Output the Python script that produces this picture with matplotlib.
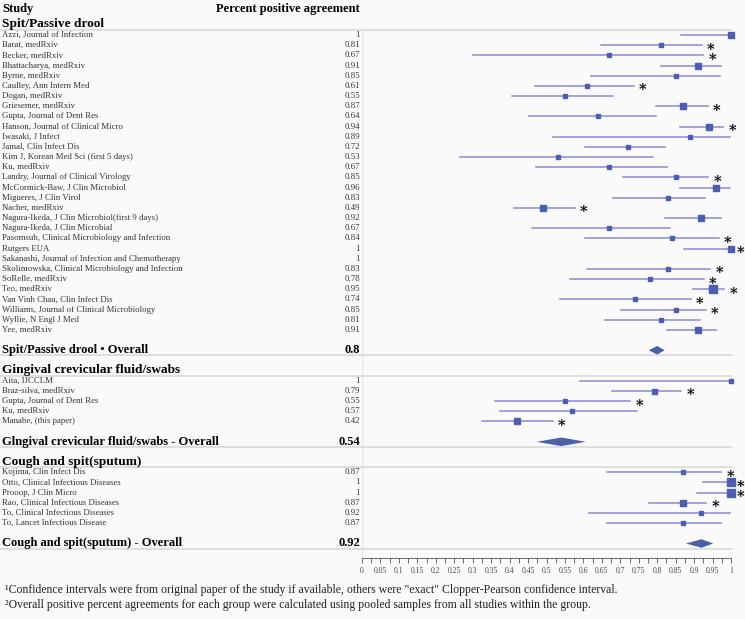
import numpy as np
import matplotlib
matplotlib.use("Agg")
from matplotlib import pyplot as plt
from matplotlib import transforms

# ---- data ----
spit_names = [
    "Azzi, Journal of Infection", "Barat, medRxiv", "Becker, medRxiv",
    "Bhattacharya, medRxiv", "Byrne, medRxiv", "Caulley, Ann Intern Med",
    "Dogan, medRxiv", "Griesemer, medRxiv", "Gupta, Journal of Dent Res",
    "Hanson, Journal of Clinical Micro", "Iwasaki, J Infect", "Jamal, Clin Infect Dis",
    "Kim J, Korean Med Sci (first 5 days)", "Ku, medRxiv",
    "Landry, Journal of Clinical Virology", "McCormick-Baw, J Clin Microbiol",
    "Migueres, J Clin Virol", "Nacher, medRxiv",
    "Nagura-Ikeda, J Clin Microbiol(first 9 days)", "Nagura-Ikeda, J Clin Microbial",
    "Pasomsub, Clinical Microbiology and Infection", "Rutgers EUA",
    "Sakanashi, Journal of Infection and Chemotherapy",
    "Skolimowska, Clinical Microbiology and Infection", "SoRelle, medRxiv",
    "Teo, medRxiv", "Van Vinh Chau, Clin Infect Dis",
    "Williams, Journal of Clinical Microbiology", "Wyllie, N Engl J Med", "Yee, medRxiv",
]
spit_ppa = [1, 0.81, 0.67, 0.91, 0.85, 0.61, 0.55, 0.87, 0.64, 0.94, 0.89, 0.72,
            0.53, 0.67, 0.85, 0.96, 0.83, 0.49, 0.92, 0.67, 0.84, 1, 1, 0.83,
            0.78, 0.95, 0.74, 0.85, 0.81, 0.91]
spit_lo = [0.864, 0.649, 0.30, 0.811, 0.621, 0.469, 0.407, 0.797, 0.452, 0.861,
           0.518, 0.605, 0.266, 0.472, 0.707, 0.861, 0.68, 0.413, 0.82, 0.462,
           0.605, 0.873, np.nan, 0.609, 0.564, 0.898, 0.537, 0.701, 0.659, 0.827]
spit_hi = [1, 0.921, 0.925, 0.972, 0.969, 0.736, 0.681, 0.937, 0.797, 0.979,
           0.998, 0.822, 0.788, 0.827, 0.938, 0.996, 0.929, 0.576, 0.974, 0.836,
           0.967, 1, np.nan, 0.943, 0.926, 0.982, 0.891, 0.931, 0.915, 0.959]
spit_weight = [5.5, 4, 3, 5, 3, 4, 4, 5.5, 4, 6, 3, 4, 3, 3.5, 4, 5.5, 4, 5, 5,
               3.5, 3.5, 6, 0, 3.5, 3.5, 7, 3.5, 4, 3.5, 5]
spit_star = [0, 1, 1, 0, 0, 1, 0, 1, 0, 1, 0, 0, 0, 0, 1, 0, 0, 1, 0, 0, 1, 1, 0,
             1, 1, 1, 1, 1, 0, 0]

gum_names = ["Aita, IJCCLM", "Braz-silva, medRxiv", "Gupta, Journal of Dent Res",
             "Ku, medRxiv", "Manabe, (this paper)"]
gum_ppa = [1, 0.79, 0.55, 0.57, 0.42]
gum_lo = [0.591, 0.678, 0.361, 0.375, 0.324]
gum_hi = [1, 0.865, 0.727, 0.745, 0.517]
gum_weight = [3.5, 4.5, 3, 3, 5]
gum_star = [0, 1, 1, 0, 1]

sputum_names = ["Kojima, Clin Infect Dis", "Otto, Clinical Infectious Diseases",
                "Prooop, J Clin Micro", "Rao, Clinical Infectious Diseases",
                "To, Clinical Infectious Diseases", "To, Lancet Infectious Disease"]
sputum_ppa = [0.87, 1, 1, 0.87, 0.92, 0.87]
sputum_lo = [0.665, 0.923, 0.909, 0.779, 0.616, 0.665]
sputum_hi = [0.973, 1, 1, 0.933, 0.997, 0.973]
sputum_weight = [3.5, 7, 6.5, 5.5, 3, 3.5]
sputum_star = [1, 1, 1, 1, 0, 0]

group_titles = ["Spit/Passive drool", "Gingival crevicular fluid/swabs",
                "Cough and spit(sputum)"]
overall_titles = ["Spit/Passive drool \u2022 Overall",
                  "Glngival crevicular fluid/swabs - Overall",
                  "Cough and spit(sputum) - Overall"]
overall_ppa = [0.80, 0.54, 0.92]
overall_lo = [0.777, 0.473, 0.878]
overall_hi = [0.82, 0.607, 0.952]
overall_text = ["0.8", "0.54", "0.92"]

ticks = np.arange(0, 1.0001, 0.05)
tick_labels = ["0"] + [f"{t:.2f}".rstrip("0") for t in ticks[1:-1]] + ["1"]

footnotes = [
    "\u00b9Confidence intervals were from original paper of the study if available, "
    "others were \"exact\" Clopper-Pearson confidence interval.",
    "\u00b2Overall positive percent agreements for each group were calculated using "
    "pooled samples from all studies within the group.",
]

groups = [
    (spit_names, spit_ppa, spit_lo, spit_hi, spit_weight, spit_star),
    (gum_names, gum_ppa, gum_lo, gum_hi, gum_weight, gum_star),
    (sputum_names, sputum_ppa, sputum_lo, sputum_hi, sputum_weight, sputum_star),
]

# ---- figure ----
plt.rcParams["mathtext.fontset"] = "dejavuserif"
W, H = 745, 619
bg = "#fafafa"
fig = plt.figure(figsize=(W / 100, H / 100), dpi=100, facecolor=bg)
row_px = 10.17
first_px = 35
axis_px = 558
ax = fig.add_axes([362 / W, (H - axis_px) / H, 369 / W, axis_px / H])
ax.set_facecolor(bg)
ax.set_xlim(0, 1)
ax.set_ylim((axis_px - first_px) / row_px, -first_px / row_px)

serif = ["Liberation Serif", "DejaVu Serif"]
trans = transforms.blended_transform_factory(fig.transFigure, ax.transData)
x_name = 2 / W
x_val = 360 / W
x_end = 731 / W

ci_col = "#8b8bd2"
box_col = "#4b5fb2"
dia_col = "#4a60aa"
sep_col = "#dcdcdc"

# column headers
ax.text(x_name, -2.6, "Study", transform=trans, fontsize=9, fontweight="bold",
        family=serif, va="center", ha="left")
ax.text(x_val, -2.6, "Percent positive agreement", transform=trans, fontsize=9,
        fontweight="bold", family=serif, va="center", ha="right")


def sep(y):
    ax.plot([0, x_end], [y, y], transform=trans, color=sep_col, lw=1.3,
            clip_on=False, zorder=1)


y = -1
for g, (names, ppa, lo, hi, wt, star) in enumerate(groups):
    ax.text(x_name, y - 0.05, group_titles[g], transform=trans, fontsize=9.6,
            fontweight="bold", family=serif, va="center", ha="left")
    sep(y + 0.5)
    for i in range(len(names)):
        r = y + 1 + i
        ax.text(x_name, r, names[i], transform=trans, fontsize=6.3, family=serif,
                va="center", ha="left", color="#333333")
        ax.text(x_val, r, f"{ppa[i]:g}", transform=trans, fontsize=6.3, family=serif,
                va="center", ha="right", color="#333333")
        if np.isnan(lo[i]):
            continue
        ax.plot([lo[i], hi[i]], [r, r], color=ci_col, lw=1.1, clip_on=False, zorder=2)
        ax.plot(ppa[i], r, marker="s", ms=wt[i] * 0.8, color=box_col, mec=box_col,
                clip_on=False, zorder=3)
        if star[i]:
            ax.text(hi[i] + 0.025, r + 0.2, r"$\mathbf{*}$", fontsize=10.5,
                    ha="center", va="center", clip_on=False)
    oy = y + len(names) + 2
    ax.text(x_name, oy, overall_titles[g], transform=trans, fontsize=9,
            fontweight="bold", family=serif, va="center", ha="left")
    ax.text(x_val, oy, overall_text[g], transform=trans, fontsize=9,
            fontweight="bold", family=serif, va="center", ha="right")
    ax.fill([overall_lo[g], overall_ppa[g], overall_hi[g], overall_ppa[g]],
            [oy, oy - 0.42, oy, oy + 0.42], color=dia_col, lw=0, zorder=3)
    sep(oy + 0.5)
    y = oy + 2

# faint vertical line at 0
ylo, yhi = ax.get_ylim()
ax.axvline(0, ymin=0, ymax=(ylo + 0.5) / (ylo - yhi), color="#e4e4e4", lw=1, zorder=0)

for s in ["top", "right", "left"]:
    ax.spines[s].set_visible(False)
ax.spines["bottom"].set_color("#555555")
ax.spines["bottom"].set_linewidth(0.6)
ax.set_yticks([])
ax.set_xticks(ticks)
ax.set_xticks(np.arange(0.025, 1, 0.05), minor=True)
ax.set_xticklabels(tick_labels, family=serif, fontsize=5.5, color="#444444")
ax.tick_params(axis="x", which="both", length=3.5, width=0.6, color="#555555", pad=3)

for k, note in enumerate(footnotes):
    fig.text(5 / W, 1 - (590 + 15 * k) / H, note, fontsize=8.5, family=serif,
             va="center", ha="left", color="#222222")

fig.savefig("out.png", dpi=100, facecolor=bg)
